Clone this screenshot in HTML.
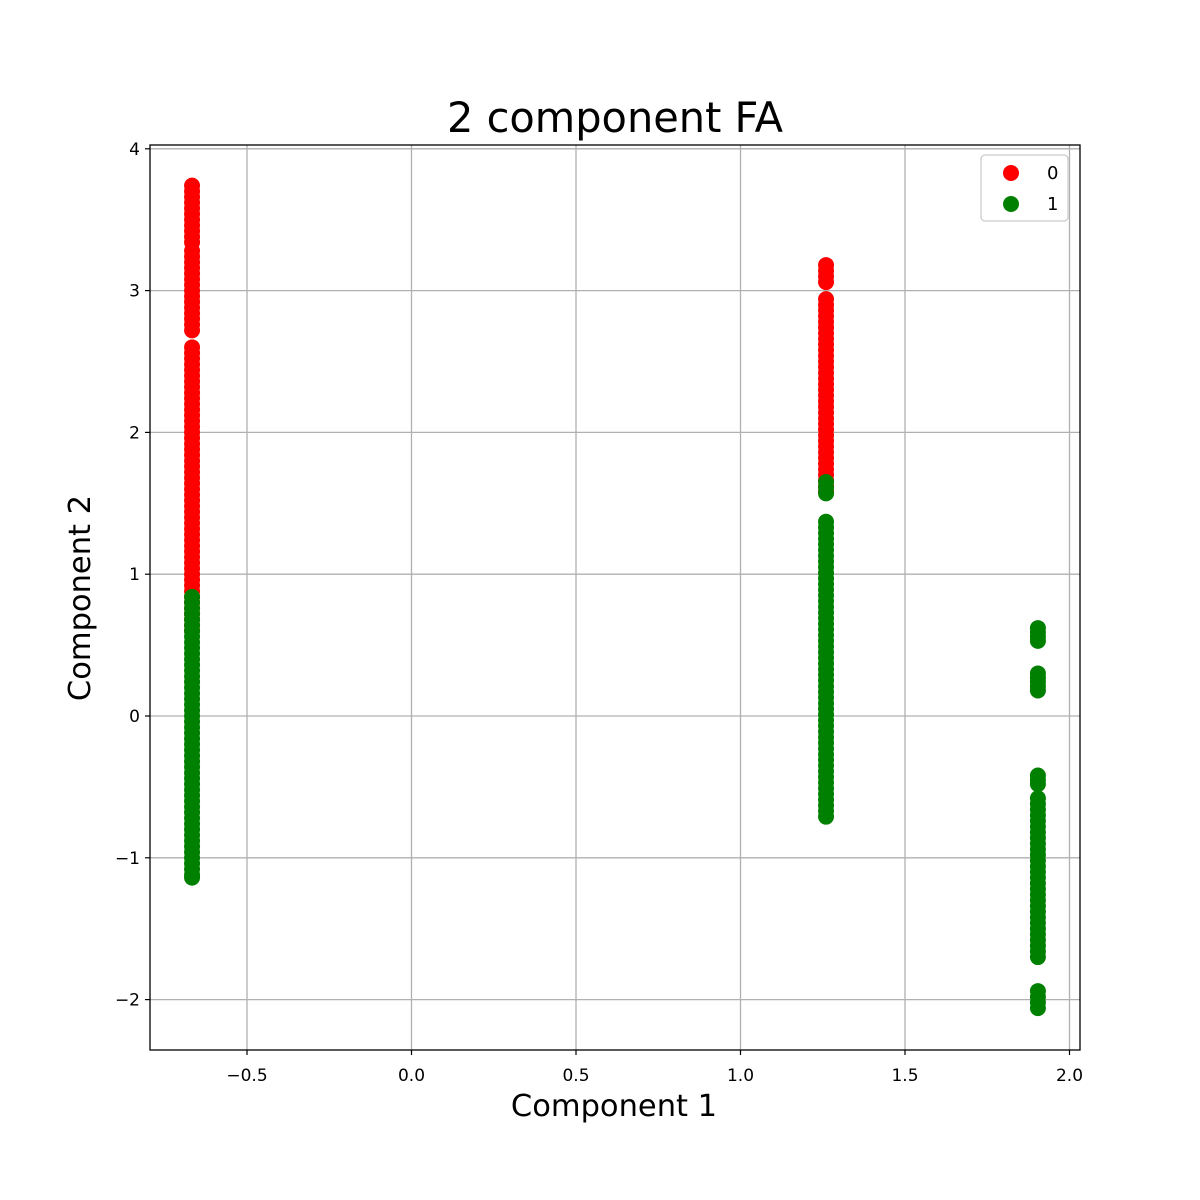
<!DOCTYPE html>
<html><head><meta charset="utf-8"><style>
body{margin:0;background:#fff;overflow:hidden}
svg{display:block}
svg text{font-family:"DejaVu Sans","Liberation Sans",sans-serif}
</style></head><body>
<svg id="chart" width="1200" height="1200" viewBox="0 0 1200 1200">
<rect width="1200" height="1200" fill="#fff"/>
<g id="grid"></g>
<g id="marks"></g>
<rect x="150" y="145" width="930" height="905" fill="none" stroke="#000" stroke-width="1.3"/>
<g id="ticks"></g>
<text x="615" y="132" font-size="41.5" text-anchor="middle">2 component FA</text>
<text x="614" y="1116" font-size="30.5" text-anchor="middle">Component 1</text>
<text x="90" y="598" font-size="30.5" text-anchor="middle" transform="rotate(-90 90 598)">Component 2</text>
<g>
<rect x="981" y="155" width="87" height="66" rx="4" fill="#fff" fill-opacity="0.8" stroke="#ccc" stroke-width="1.3"/>
<circle cx="1011" cy="173" r="8" fill="red"/>
<text x="1047" y="179" font-size="18">0</text>
<circle cx="1011" cy="204" r="8" fill="green"/>
<text x="1047" y="210" font-size="18">1</text>
</g>
</svg>
<script>
const columnX=[-0.667,1.26,1.904];
const class0Y=[
[3.74,3.70,3.66,3.62,3.58,3.54,3.50,3.46,3.42,3.38,3.34,
 3.28,3.24,3.20,3.16,3.12,3.08,3.04,3.00,2.96,2.92,2.88,2.84,2.80,2.76,2.72,
 2.60,2.56,2.52,2.48,2.44,2.40,2.36,2.32,2.28,2.24,2.20,2.16,2.12,2.08,2.04,2.00,1.96,1.92,1.88,1.84,1.80,1.76,1.72,1.68,1.64,1.60,1.56,1.52,1.48,1.44,1.40,1.36,1.32,1.28,1.24,1.20,1.16,1.12,1.08,1.04,1.00,0.96,0.92,0.88,0.84,0.80,0.76,0.72,0.68,0.64,0.60],
[3.18,3.14,3.10,3.06,
 2.94,2.90,2.86,2.82,2.78,2.74,2.70,2.66,2.62,2.58,2.54,2.50,2.46,2.42,2.38,2.34,2.30,2.26,2.22,2.18,2.14,2.10,2.06,2.02,1.98,1.94,1.90,1.86,1.82,1.78,1.74,1.70,1.66,1.62,1.58],
[]];
const class1Y=[
[0.84,0.80,0.76,0.72,0.68,0.64,0.60,0.56,0.52,0.48,0.44,0.40,0.36,0.32,0.28,0.24,0.20,0.16,0.12,0.08,0.04,0.00,-0.04,-0.08,-0.12,-0.16,-0.20,-0.24,-0.28,-0.32,-0.36,-0.40,-0.44,-0.48,-0.52,-0.56,-0.60,-0.64,-0.68,-0.72,-0.76,-0.80,-0.84,-0.88,-0.92,-0.96,-1.00,-1.04,-1.08,-1.12,-1.14],
[1.65,1.61,1.57,
 1.37,1.33,1.29,1.25,1.21,1.17,1.13,1.09,1.05,1.01,0.97,0.93,0.89,0.85,0.81,0.77,0.73,0.69,0.65,0.61,0.57,0.53,0.49,0.45,0.41,0.37,0.33,0.29,0.25,0.21,0.17,0.13,0.09,0.05,0.01,-0.03,-0.07,-0.11,-0.15,-0.19,-0.23,-0.27,-0.31,-0.35,-0.39,-0.43,-0.47,-0.51,-0.55,-0.59,-0.63,-0.67,-0.71],
[0.62,0.59,0.56,0.53,0.30,0.27,0.24,0.21,0.18,-0.42,-0.45,-0.48,
 -0.58,-0.62,-0.66,-0.70,-0.74,-0.78,-0.82,-0.86,-0.90,-0.94,-0.98,-1.02,-1.06,-1.10,-1.14,-1.18,-1.22,-1.26,-1.30,-1.34,-1.38,-1.42,-1.46,-1.50,-1.54,-1.58,-1.62,-1.66,-1.70,
 -1.94,-1.98,-2.02,-2.06]];
const xTicks=[-0.5,0.0,0.5,1.0,1.5,2.0];
const xTickLabels=["\u22120.5","0.0","0.5","1.0","1.5","2.0"];
const yTicks=[-2,-1,0,1,2,3,4];
const yTickLabels=["\u22122","\u22121","0","1","2","3","4"];
const sx=v=>411.5+v*329;
const sy=v=>716-v*141.8;
const NS="http://www.w3.org/2000/svg";
const grid=document.getElementById('grid'),ticks=document.getElementById('ticks'),marks=document.getElementById('marks');
function mk(tag,attrs,parent){const e=document.createElementNS(NS,tag);for(const k in attrs)e.setAttribute(k,attrs[k]);parent.appendChild(e);return e;}
xTicks.forEach((t,i)=>{const x=sx(t);
const g=mk('line',{x1:x,x2:x,y1:145,y2:1050,stroke:'#b0b0b0','stroke-width':1.3},grid);


const tk=mk('line',{x1:x,x2:x,y1:1050,y2:1055,stroke:'#000','stroke-width':1.2},ticks);


const tx=mk('text',{x:x,y:1081,'font-size':17,'text-anchor':'middle'},ticks);tx.textContent=xTickLabels[i];

});
yTicks.forEach((t,i)=>{const y=sy(t);
const g=mk('line',{x1:150,x2:1080,y1:y,y2:y,stroke:'#b0b0b0','stroke-width':1.3},grid);


const tk=mk('line',{x1:145,x2:150,y1:y,y2:y,stroke:'#000','stroke-width':1.2},ticks);


const tx=mk('text',{x:140,y:y+6,'font-size':17,'text-anchor':'end'},ticks);tx.textContent=yTickLabels[i];

});
[[class0Y,'red','point-class-0'],[class1Y,'green','point-class-1']].forEach(([cls,col,name])=>{
cls.forEach((ys,ci)=>ys.forEach(v=>{const c=mk('circle',{cx:sx(columnX[ci]),cy:sy(v),r:8,fill:col},marks);

}));});
</script>
</body></html>
